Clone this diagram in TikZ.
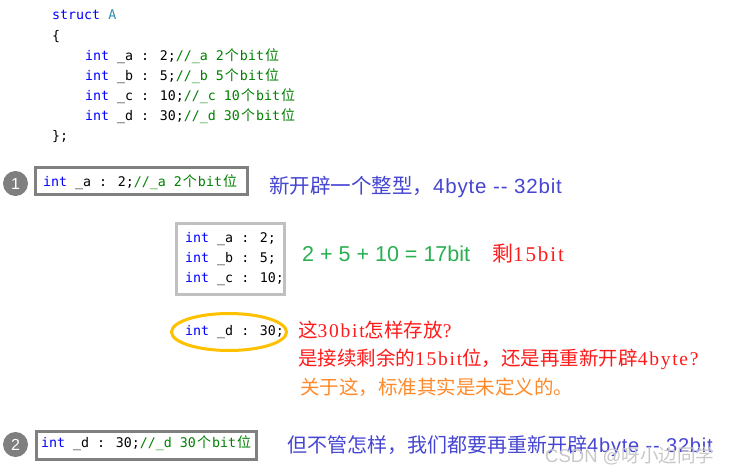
\documentclass[tikz,border=0pt]{standalone}
\usepackage{fontspec}
\setmainfont{Liberation Serif}
\newfontfamily\cjkfont{Noto Sans CJK SC}
\newfontfamily\monofont{DejaVu Sans Mono}
\newfontfamily\sansfont{Liberation Sans}
\newfontfamily\sanswide{Liberation Sans}[LetterSpace=4]
\newfontfamily\serifwide{Liberation Serif}[LetterSpace=9]
\usetikzlibrary{shapes.geometric}
\definecolor{codeblue}{HTML}{0000FF}
\definecolor{codegreen}{HTML}{008000}
\definecolor{typeteal}{HTML}{2B91AF}
\definecolor{numgray}{HTML}{7F7F7F}
\definecolor{boxgray}{HTML}{808080}
\definecolor{lightbox}{HTML}{C0C0C0}
\definecolor{ringgold}{HTML}{FFC000}
\definecolor{noteblue}{HTML}{4646D2}
\definecolor{notegreen}{HTML}{28B050}
\definecolor{notered}{HTML}{FF1A1A}
\definecolor{noteorange}{HTML}{FF8A2B}
\definecolor{wmgray}{HTML}{C8C8C8}
\newcommand\mycode{\monofont\fontsize{13.3}{16}\selectfont}
\newcommand\cch[1]{\makebox[16pt]{\cjkfont\fontsize{14}{16}\selectfont #1}}
\newcommand\kw[1]{\textcolor{codeblue}{#1}}
\newcommand\cmt[1]{\textcolor{codegreen}{#1}}
\newcommand\zh[1]{{\cjkfont #1}}
\newcommand\la[1]{{\sanswide #1}}
\newcommand\lr[1]{{\serifwide #1}}
\begin{document}
\begin{tikzpicture}[x=1pt,y=-1pt,
  code/.style={anchor=west, inner sep=0pt, font=\mycode, text height=10pt, text depth=3pt},
  note/.style={anchor=west, inner sep=0pt, text height=15pt, text depth=0pt},
  numdot/.style={circle, fill=numgray, minimum size=25pt, inner sep=0pt, text=white,
    font=\sansfont\fontsize{16}{16}\selectfont},
  darkbox/.style={draw=boxgray, line width=3pt, inner sep=0pt},
  lightframe/.style={draw=lightbox, line width=3pt, inner sep=0pt},
  ring/.style={ellipse, draw=ringgold, line width=3pt, inner sep=0pt}
]
\useasboundingbox[fill=white] (0,0) rectangle (731,474);

% struct definition
\node[code] (s1) at (52,16) {\kw{struct} \textcolor{typeteal}{A}};
\node[code] (s2) at (52,37) {\{};
\node[code] (s3) at (85,57) {\kw{int} \_a : 2;\cmt{//\_a 2\cch{个}bit\cch{位}}};
\node[code] (s4) at (85,77) {\kw{int} \_b : 5;\cmt{//\_b 5\cch{个}bit\cch{位}}};
\node[code] (s5) at (85,97) {\kw{int} \_c : 10;\cmt{//\_c 10\cch{个}bit\cch{位}}};
\node[code] (s6) at (85,117) {\kw{int} \_d : 30;\cmt{//\_d 30\cch{个}bit\cch{位}}};
\node[code] (s7) at (52,137) {\};};

% step 1
\node[numdot] (n1) at (15.5,183.5) {1};
\node[darkbox, minimum width=212, minimum height=27] (box1) at (141.5,181) {};
\node[code] (c1) at (43,183) {\kw{int} \_a : 2;\cmt{//\_a 2\cch{个}bit\cch{位}}};
\node[note, text=noteblue, font=\fontsize{20.5}{24}\selectfont] (t1) at (269,186)
  {\zh{新开辟一个整型，}\la{4byte -{}- 32bit}};

% three fields
\node[lightframe, minimum width=108, minimum height=71] (box2) at (230.5,259) {};
\node[code] (c2) at (185,239) {\kw{int} \_a : 2;};
\node[code] (c3) at (185,259) {\kw{int} \_b : 5;};
\node[code] (c4) at (185,279) {\kw{int} \_c : 10;};
\node[note, text=notegreen, font=\sansfont\fontsize{21.5}{24}\selectfont] (sum) at (302,254)
  {2 + 5 + 10 = 17bit};
\node[note, text=notered, font=\fontsize{21}{24}\selectfont] (rest) at (492,254)
  {\zh{剩}\lr{15bit}};

% field d
\node[ring, minimum width=115, minimum height=37] (ring) at (229,332) {};
\node[code] (c5) at (185,332) {\kw{int} \_d : 30;};
\node[note, text=notered, font=\fontsize{19.5}{24}\selectfont] (q1) at (298,330)
  {\zh{这}\lr{30bit}\zh{怎样存放}\lr{?}};
\node[note, text=notered, font=\fontsize{19.5}{24}\selectfont] (q2) at (298,358)
  {\zh{是接续剩余的}\lr{15bit}\zh{位，还是再重新开辟}\lr{4byte?}};
\node[note, text=noteorange, font=\fontsize{19.5}{24}\selectfont] (q3) at (300,387)
  {\zh{关于这，标准其实是未定义的。}};

% step 2
\node[numdot] (n2) at (15.5,444.5) {2};
\node[darkbox, minimum width=220, minimum height=28] (box3) at (146.5,445.5) {};
\node[code] (c6) at (41,444) {\kw{int} \_d : 30;\cmt{//\_d 30\cch{个}bit\cch{位}}};
\node[note, text=noteblue, font=\fontsize{20}{24}\selectfont] (t2) at (287,445)
  {\zh{但不管怎样，我们都要再重新开辟}\la{4byte -{}- 32bit}};

% watermark
\node[anchor=west, inner sep=0pt, text height=13pt, text depth=0pt, text=wmgray,
  font=\fontsize{18.5}{20}\selectfont] (wm) at (545,456)
  {{\sansfont CSDN @}\zh{呀小边同学}};
\end{tikzpicture}
\end{document}
